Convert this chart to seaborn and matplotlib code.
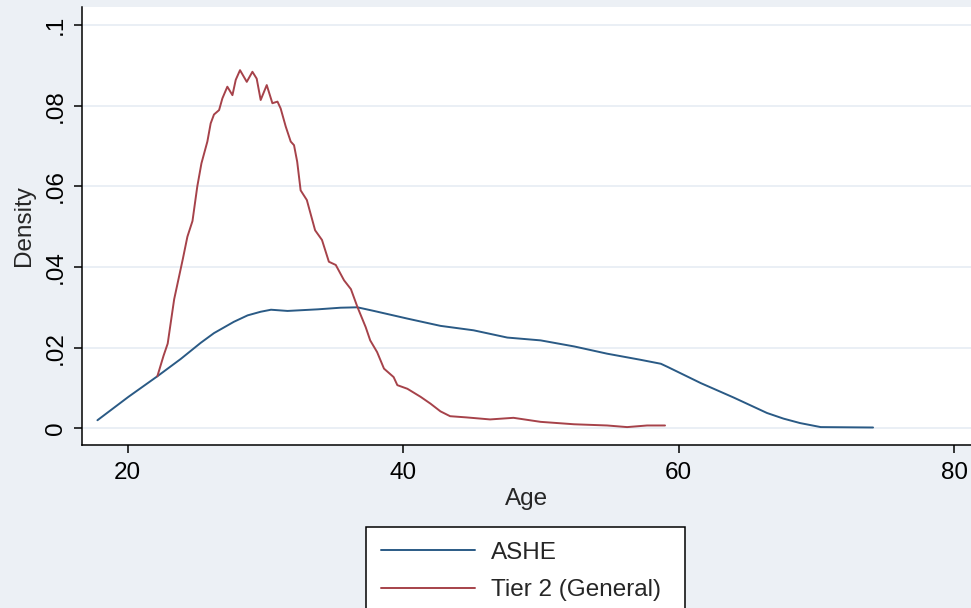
import matplotlib
matplotlib.use("Agg")
import matplotlib.pyplot as plt
import seaborn as sns
import pandas as pd

# Kernel density estimates of age, read as (age, density) pairs
ashe_age = [17.8, 20.05, 22.15, 23.85, 25.3, 26.26, 27.7, 28.7, 29.65, 30.4,
            31.6, 33.8, 35.45, 36.67, 37.87, 40.3, 42.7, 45.1, 47.55, 49.97,
            52.4, 54.8, 57.2, 58.7, 59.2, 60.4, 61.6, 62.8, 64.0, 65.2, 66.4,
            67.6, 68.8, 69.55, 70.3, 74.1]
ashe_density = [0.0020, 0.0078, 0.0129, 0.0172, 0.0212, 0.0236, 0.0264, 0.0280,
                0.0289, 0.0294, 0.0291, 0.0295, 0.0299, 0.0300, 0.0291, 0.0272,
                0.0254, 0.0243, 0.0225, 0.0218, 0.0203, 0.0185, 0.0170, 0.0160,
                0.0152, 0.0132, 0.0112, 0.0094, 0.0076, 0.0057, 0.0038, 0.0024,
                0.0013, 0.0008, 0.0003, 0.0002]

tier2_age = [22.15, 22.60, 22.90, 23.37, 24.00, 24.33, 24.70, 25.05, 25.35, 25.78,
             26.02, 26.26, 26.63, 26.87, 27.23, 27.60, 27.84, 28.15, 28.64, 29.05,
             29.36, 29.65, 30.09, 30.50, 30.87, 31.10, 31.47, 31.83, 32.07, 32.30,
             32.55, 33.00, 33.60, 34.10, 34.60, 35.10, 35.70, 36.20, 36.67, 37.27,
             37.60, 38.10, 38.60, 39.30, 39.57, 40.30, 41.26, 41.98, 42.70, 43.40,
             44.60, 46.30, 48.00, 49.97, 52.40, 54.80, 56.25, 57.70, 59.00]
tier2_density = [0.0129, 0.0180, 0.0210, 0.0320, 0.0420, 0.0475, 0.0514, 0.0600,
                 0.0657, 0.0711, 0.0756, 0.0778, 0.0789, 0.0818, 0.0847, 0.0826,
                 0.0864, 0.0888, 0.0859, 0.0884, 0.0867, 0.0814, 0.0851, 0.0806,
                 0.0810, 0.0793, 0.0748, 0.0711, 0.0702, 0.0661, 0.0590, 0.0566,
                 0.0491, 0.0467, 0.0413, 0.0405, 0.0367, 0.0345, 0.0301, 0.0251,
                 0.0218, 0.0189, 0.0148, 0.0127, 0.0107, 0.0098, 0.0078, 0.0061,
                 0.0042, 0.0030, 0.0027, 0.0022, 0.0026, 0.0016, 0.0010, 0.0007,
                 0.0003, 0.0007, 0.0007]

series_names = ["ASHE", "Tier 2 (General)"]
series_colors = ["#2A5A85", "#A6424A"]

x_ticks = [20, 40, 60, 80]
y_ticks = [0, 0.02, 0.04, 0.06, 0.08, 0.1]
y_tick_labels = ["0", ".02", ".04", ".06", ".08", ".1"]

df = pd.concat([
    pd.DataFrame({"Age": ashe_age, "Density": ashe_density, "series": series_names[0]}),
    pd.DataFrame({"Age": tier2_age, "Density": tier2_density, "series": series_names[1]}),
], ignore_index=True)

bg = "#ECF0F5"
sns.set_style("white")
plt.rcParams["font.family"] = ["Liberation Sans", "DejaVu Sans"]
fs = 17.5

W, H = 971, 608
fig = plt.figure(figsize=(W / 100, H / 100), dpi=100, facecolor=bg)
ax = fig.add_axes([82 / W, (H - 445) / H, (W - 82) / W, (445 - 7) / H])
ax.set_facecolor("white")

sns.lineplot(data=df, x="Age", y="Density", hue="series", hue_order=series_names,
             palette=dict(zip(series_names, series_colors)), sort=False,
             estimator=None, linewidth=1.4, ax=ax)

ax.set_xlim(16.68, 81.21)
ax.set_ylim(-0.00414, 0.10446)
ax.set_xticks(x_ticks)
ax.set_xticklabels([str(t) for t in x_ticks], fontsize=fs)
ax.set_yticks(y_ticks)
ax.set_yticklabels(y_tick_labels, fontsize=fs, rotation=90, va="center")

ax.grid(axis="y", color="#E8EEF4", linewidth=1.3)
ax.grid(axis="x", visible=False)
ax.set_axisbelow(True)

for side in ["top", "right"]:
    ax.spines[side].set_visible(False)
for side in ["left", "bottom"]:
    ax.spines[side].set_color("black")
    ax.spines[side].set_linewidth(1.1)

ax.tick_params(axis="both", direction="out", length=6, width=1.1, color="black",
               labelcolor="black", left=True, bottom=True)
ax.tick_params(axis="x", pad=6)
ax.tick_params(axis="y", pad=5)

ax.set_xlabel("Age", fontsize=fs, labelpad=3)
ax.set_ylabel("Density", fontsize=fs, labelpad=7)

handles, labels = ax.get_legend_handles_labels()
ax.get_legend().remove()
top = 1 - 527 / H
leg = fig.legend(handles, labels, loc="upper left",
                 bbox_to_anchor=(366 / W, top - 0.01, (685 - 366) / W, 0.01),
                 mode="expand", fontsize=fs, frameon=True, fancybox=False,
                 framealpha=1, edgecolor="black", facecolor="white",
                 borderpad=0.6, handlelength=3.9, handletextpad=0.66,
                 labelspacing=0.65, borderaxespad=0)
leg.get_frame().set_linewidth(1.1)
for line in leg.get_lines():
    line.set_linewidth(1.4)

fig.savefig("out.png", dpi=100, facecolor=bg)
